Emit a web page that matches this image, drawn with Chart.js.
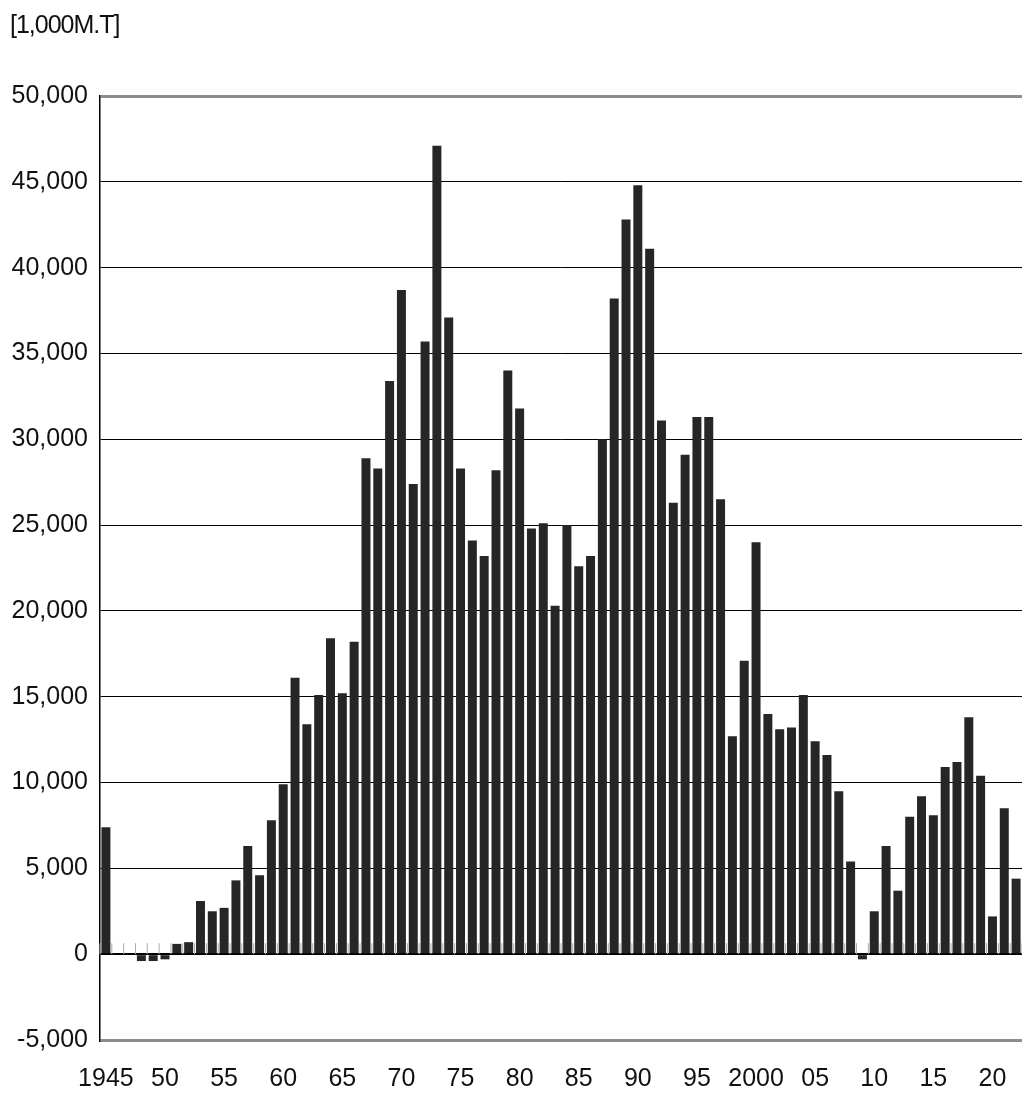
<!DOCTYPE html>
<html>
<head>
<meta charset="utf-8">
<script src="https://cdn.jsdelivr.net/npm/chart.js@4"></script>
<style>
  body { margin: 0; background: #fff; overflow: hidden; }
  #wrap { position: relative; width: 1022px; height: 1108px; }
  #unit { position: absolute; left: 10px; top: 10px; font: 25px "Liberation Sans", sans-serif; color: #111; letter-spacing: -1px; }
</style>
</head>
<body>
<div id="wrap">
  <div id="unit">[1,000M.T]</div>
  <canvas id="c" width="1022" height="1108"></canvas>
</div>
<script>
const years = [];
for (let y = 1945; y <= 2022; y++) years.push(y);

const values = [
  7400, 0, 0, -400, -400, -300, 600, 700, 3100, 2500,
  2700, 4300, 6300, 4600, 7800, 9900, 16100, 13400, 15100, 18400,
  15200, 18200, 28900, 28300, 33400, 38700, 27400, 35700, 47100, 37100,
  28300, 24100, 23200, 28200, 34000, 31800, 24800, 25100, 20300, 25000,
  22600, 23200, 30000, 38200, 42800, 44800, 41100, 31100, 26300, 29100,
  31300, 31300, 26500, 12700, 17100, 24000, 14000, 13100, 13200, 15100,
  12400, 11600, 9500, 5400, -300, 2500, 6300, 3700, 8000, 9200,
  8100, 10900, 11200, 13800, 10400, 2200, 8500, 4400
];

const labelYears = [1945, 1950, 1955, 1960, 1965, 1970, 1975, 1980, 1985, 1990, 1995, 2000, 2005, 2010, 2015, 2020];
function yearLabel(y) {
  if (y === 1945 || y === 2000) return String(y);
  return String(y % 100).padStart(2, '0');
}

const FONT = '"Liberation Sans", sans-serif';

// small grey ticks just above the zero line
const zeroTicks = {
  id: 'zeroTicks',
  beforeDatasetsDraw(chart) {
    const ctx = chart.ctx, x = chart.scales.x, y = chart.scales.y;
    const y0 = y.getPixelForValue(0);
    ctx.save();
    ctx.strokeStyle = '#aaa';
    ctx.lineWidth = 1;
    for (let i = 0; i <= years.length; i++) {
      const px = x.left + (x.right - x.left) * i / years.length;
      ctx.beginPath();
      ctx.moveTo(px, y0);
      ctx.lineTo(px, y0 - 11);
      ctx.stroke();
    }
    ctx.restore();
  }
};

new Chart(document.getElementById('c'), {
  type: 'bar',
  data: {
    labels: years,
    datasets: [{
      data: values,
      backgroundColor: '#262626',
      barPercentage: 0.76,
      categoryPercentage: 1
    }]
  },
  plugins: [zeroTicks],
  options: {
    responsive: false,
    animation: false,
    layout: { padding: { top: 96, right: 0, left: 0, bottom: 0 } },
    plugins: { legend: { display: false }, tooltip: { enabled: false } },
    scales: {
      x: {
        grid: { display: false },
        border: { display: false },
        afterFit(s) { s.height = 68; s.paddingLeft = 0; s.paddingRight = 0; },
        ticks: {
          autoSkip: false,
          maxRotation: 0,
          color: '#111',
          font: { family: FONT, size: 25 },
          padding: 16,
          callback(v, i) {
            const y = years[i];
            return labelYears.includes(y) ? yearLabel(y) : '';
          }
        }
      },
      y: {
        min: -5000,
        max: 50000,
        afterFit(s) { s.width = 100; s.paddingTop = 0; s.paddingBottom = 0; },
        border: { display: true, color: '#000', width: 1.5 },
        grid: {
          drawTicks: false,
          color(c) {
            const v = c.tick.value;
            return (v === 50000 || v === -5000) ? '#8c8c8c' : '#000';
          },
          lineWidth(c) {
            const v = c.tick.value;
            if (v === 50000 || v === -5000) return 3;
            if (v === 0) return 2;
            return 1;
          }
        },
        ticks: {
          stepSize: 5000,
          color: '#111',
          padding: 12,
          font: { family: FONT, size: 25 },
          callback(v) { return v.toLocaleString('en-US'); }
        }
      }
    }
  }
});
</script>
</body>
</html>
